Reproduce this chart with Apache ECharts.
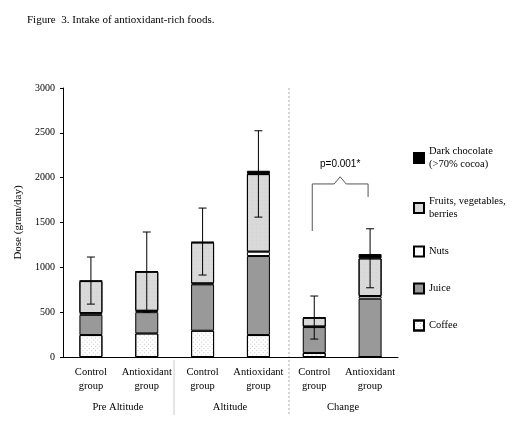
<!DOCTYPE html><html><head><meta charset="utf-8"><script src="https://cdn.jsdelivr.net/npm/echarts@6/dist/echarts.min.js"></script></head><body style="margin:0"><div id="c" style="width:525px;height:428px"></div><script>
const categories=['Control\ngroup','Antioxidant\ngroup','Control\ngroup','Antioxidant\ngroup','Control\ngroup','Antioxidant\ngroup'];
const groups=['Pre Altitude','Altitude','Change'];
const coffee=[245,263,293,245,45,0];
const juice=[225,237,517,881,289,650];
const nuts=[20,15,10,48,5,30];
const fruits=[357,436,458,866,99,420];
const chocolate=[5,5,5,37,5,48];
const errHigh=[1115,1394,1661,2523,680,1430];
const errLow=[590,500,914,1560,200,772];
const pText='p=0.001*';
const F='Liberation Serif';
const ch=echarts.init(document.getElementById('c'));
const bs={borderColor:'#000',borderWidth:1};
function s(name,data,color,decal){return {name,type:'bar',stack:'a',data,barWidth:23,itemStyle:Object.assign({color,decal},bs)};}
const dotDecal={symbol:'rect',symbolSize:0.6,dashArrayX:[[1,2]],dashArrayY:[1,2],color:'#444',rotation:0.785};
const fruitDecal={symbol:'rect',symbolSize:0.3,dashArrayX:[[1,3]],dashArrayY:[1,3],color:'#aaa'};
ch.setOption({
animation:false,
aria:{enabled:false},
title:{text:'Figure  3. Intake of antioxidant-rich foods.',left:22,top:10,textStyle:{fontFamily:F,fontSize:11,fontWeight:'normal',color:'#000'}},
grid:{left:63,right:127,top:88,bottom:71},
legend:{orient:'vertical',left:408,top:140,icon:'rect',itemWidth:10,itemHeight:10,itemGap:24,textStyle:{fontFamily:F,fontSize:10.5,color:'#000',lineHeight:13},
 data:['Dark chocolate\n(>70% cocoa)','Fruits, vegetables,\nberries','Nuts','Juice','Coffee']},
xAxis:{type:'category',data:categories,axisLine:{lineStyle:{color:'#000'}},axisTick:{show:false},axisLabel:{interval:0,align:'center',fontFamily:F,fontSize:10.5,color:'#000',lineHeight:14,margin:8}},
yAxis:{type:'value',min:0,max:3000,interval:500,name:'Dose (gram/day)',nameLocation:'middle',nameGap:38,nameTextStyle:{fontFamily:F,fontSize:11,color:'#000'},
 axisLine:{show:true,lineStyle:{color:'#000'}},axisTick:{show:true,length:3},splitLine:{show:false},axisLabel:{formatter:v=>String(v),fontFamily:F,fontSize:10,color:'#000'}},
series:[
 s('Coffee',coffee,'#fff',dotDecal),
 s('Juice',juice,'#999'),
 s('Nuts',nuts,'#fff'),
 s('Fruits, vegetables,\nberries',fruits,'#d9d9d9',fruitDecal),
 s('Dark chocolate\n(>70% cocoa)',chocolate,'#000'),
 {type:'custom',data:errHigh.map((h,i)=>[i,errLow[i],h]),z:10,renderItem:(p,api)=>{
   const a=api.coord([api.value(0),api.value(1)]),b=api.coord([api.value(0),api.value(2)]);
   const st={stroke:'#000',lineWidth:1};
   return {type:'group',children:[
    {type:'line',shape:{x1:a[0],y1:a[1],x2:b[0],y2:b[1]},style:st},
    {type:'line',shape:{x1:a[0]-4,y1:a[1],x2:a[0]+4,y2:a[1]},style:st},
    {type:'line',shape:{x1:b[0]-4,y1:b[1],x2:b[0]+4,y2:b[1]},style:st}]};}},
 {type:'custom',data:[[4,5]],z:10,renderItem:(p,api)=>{
   const l=api.coord([4,1405]),lt=api.coord([4,1930]),r=api.coord([5,1785]),pk=api.coord([4.5,2010]);
   const x1=l[0]-2,x2=r[0]-2,xm=(x1+x2)/2;
   return {type:'group',children:[
    {type:'polyline',shape:{points:[[x1,l[1]],[x1,lt[1]],[xm-6,lt[1]],[xm,pk[1]],[xm+6,lt[1]],[x2,lt[1]],[x2,r[1]]]},style:{stroke:'#555',fill:'none',lineWidth:1}},
    {type:'text',x:xm,y:pk[1]-8,style:{text:pText,fontFamily:'Liberation Sans',fontSize:10,fill:'#000',align:'center',verticalAlign:'bottom'}}]};}}
],
graphic:[
 {type:'line',shape:{x1:174,y1:360,x2:174,y2:415},style:{stroke:'#ccc',lineWidth:1}},
 {type:'line',shape:{x1:289,y1:88,x2:289,y2:415},style:{stroke:'#aaa',lineWidth:1,lineDash:[2,2]}},
 {type:'text',x:118,y:402,style:{text:groups[0],fontFamily:F,fontSize:10.5,fill:'#000',align:'center'}},
 {type:'text',x:230,y:402,style:{text:groups[1],fontFamily:F,fontSize:10.5,fill:'#000',align:'center'}},
 {type:'text',x:343,y:402,style:{text:groups[2],fontFamily:F,fontSize:10.5,fill:'#000',align:'center'}}
]});
</script></body></html>
